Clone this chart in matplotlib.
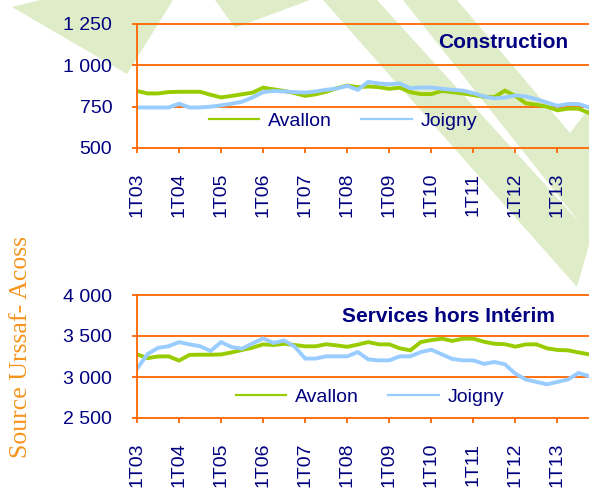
import numpy as np
import matplotlib
matplotlib.use('Agg')
import matplotlib.pyplot as plt
from matplotlib.patches import Polygon
from matplotlib.lines import Line2D

plt.rcParams['font.family'] = ['Liberation Sans', 'DejaVu Sans']

# quarterly data 1T03 .. 4T13
quarters = [f'{q}T{y:02d}' for y in range(3, 14) for q in range(1, 5)]
tick_labels = [f'1T{y:02d}' for y in range(3, 14)]

constr_avallon = [845, 830, 830, 838, 840, 840, 840, 822, 806, 815, 825, 835, 865, 855, 845,
                  832, 815, 825, 840, 862, 878, 868, 872, 868, 858, 865, 838, 826, 826, 845,
                  838, 830, 820, 810, 808, 847, 815, 770, 762, 750, 728, 738, 738, 712]
constr_joigny = [745, 745, 745, 745, 768, 745, 745, 750, 758, 768, 780, 806, 838, 845, 842,
                 838, 835, 842, 852, 860, 876, 852, 900, 890, 886, 890, 862, 866, 866, 858,
                 852, 847, 832, 812, 800, 805, 818, 812, 795, 775, 755, 766, 766, 746]

serv_avallon = [3276, 3230, 3250, 3252, 3200, 3270, 3272, 3272, 3275, 3300, 3330, 3358, 3398,
                3390, 3405, 3390, 3374, 3374, 3400, 3385, 3368, 3395, 3426, 3398, 3398, 3350,
                3325, 3426, 3450, 3467, 3440, 3467, 3467, 3430, 3405, 3400, 3370, 3398, 3398,
                3350, 3330, 3325, 3300, 3276]
serv_joigny = [3100, 3280, 3355, 3375, 3425, 3398, 3375, 3318, 3425, 3365, 3345, 3410, 3470,
               3415, 3445, 3370, 3225, 3225, 3252, 3252, 3252, 3304, 3215, 3203, 3203, 3252,
               3252, 3304, 3333, 3276, 3220, 3203, 3203, 3160, 3183, 3155, 3040, 2968, 2940,
               2911, 2940, 2970, 3049, 3010]

ORANGE = '#ff6600'
NAVY = '#000080'
GREEN = '#99cc00'
BLUE = '#99ccff'
WATERMARK = '#deedc8'

W, H = 589, 491
fig = plt.figure(figsize=(W / 100, H / 100), dpi=100)

# background watermark (pixel coordinates)
bg = fig.add_axes([0, 0, 1, 1], zorder=-1)
bg.set_xlim(0, W)
bg.set_ylim(H, 0)
bg.axis('off')
shapes = [
    [(12, 7), (40, 0), (173, 0), (127, 74)],
    [(215, 0), (310, 0), (235, 28)],
    [(323, 0), (377, 0), (580, 223), (589, 210), (589, 245), (577, 287)],
    [(403, 0), (457, 0), (570, 133), (589, 108), (589, 212), (580, 223)],
]
for s in shapes:
    bg.add_patch(Polygon(s, closed=True, facecolor=WATERMARK, edgecolor='none'))

x = np.arange(len(quarters))


def panel(top, bottom, avallon, joigny, yticks, ylabels, title, title_pos, leg_pos):
    ax = fig.add_axes([137 / W, 1 - bottom / H, (W - 137) / W, (bottom - top) / H])
    ax.set_facecolor('none')
    ax.plot(x, avallon, color=GREEN, lw=2.8, solid_joinstyle='miter')
    ax.plot(x, joigny, color=BLUE, lw=2.8, solid_joinstyle='miter')
    ax.set_xlim(0, len(quarters) - 1)
    ax.set_ylim(yticks[0], yticks[-1])
    ax.set_yticks(yticks)
    ax.set_yticklabels(ylabels)
    ax.set_xticks(x[::4])
    ax.set_xticklabels(tick_labels, rotation=90)
    for yv in yticks[1:]:
        ax.axhline(yv, color=ORANGE, lw=1.3, zorder=0.5, clip_on=False)
    for side in ['top', 'right']:
        ax.spines[side].set_visible(False)
    for side in ['left', 'bottom']:
        ax.spines[side].set_color(ORANGE)
        ax.spines[side].set_linewidth(1.3)
    ax.tick_params(axis='both', direction='out', length=3.8, width=1.3, color=ORANGE,
                   labelcolor=NAVY, labelsize=14, pad=14)
    fig.text(title_pos[0] / W, 1 - title_pos[1] / H, title, fontsize=15, fontweight='bold',
             color=NAVY, ha='center', va='center')
    handles = [Line2D([], [], color=GREEN, lw=1.6), Line2D([], [], color=BLUE, lw=1.6)]
    ax.legend(handles, ['Avallon', 'Joigny'], loc='center',
              bbox_to_anchor=(leg_pos[0] / W, 1 - leg_pos[1] / H),
              bbox_transform=fig.transFigure, ncol=2, frameon=False, fontsize=14,
              labelcolor=NAVY, handlelength=2.6, handletextpad=0.45, columnspacing=1.5,
              borderpad=0, borderaxespad=0)
    return ax


panel(24, 148, constr_avallon, constr_joigny, [500, 750, 1000, 1250],
      ['500', '750', '1 000', '1 250'], 'Construction', (503, 42), (343, 121))
panel(295, 418, serv_avallon, serv_joigny, [2500, 3000, 3500, 4000],
      ['2 500', '3 000', '3 500', '4 000'], 'Services hors Intérim', (448, 317), (370, 397))

fig.text(21 / W, 1 - 347 / H, 'Source Urssaf- Acoss', rotation=90, fontsize=18.5,
         family='Liberation Serif', color='#f7941d', ha='center', va='center')

fig.savefig('out.png', dpi=100)
